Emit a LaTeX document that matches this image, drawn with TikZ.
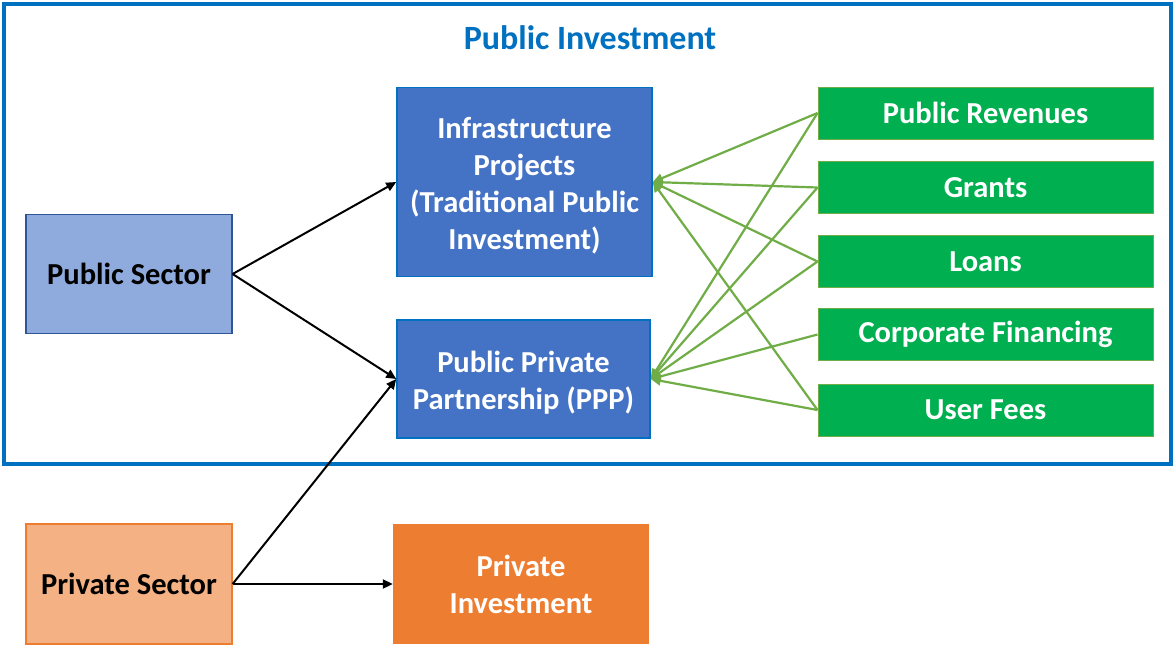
\documentclass[tikz,border=0pt]{standalone}
\usepackage{fontspec}
\setmainfont{Carlito}
\usetikzlibrary{arrows.meta}
\definecolor{frameblue}{HTML}{0070C0}
\definecolor{midblue}{HTML}{4472C4}
\definecolor{lightblue}{HTML}{8FAADC}
\definecolor{edgeblue}{HTML}{2F5597}
\definecolor{srcgreen}{HTML}{00B050}
\definecolor{linegreen}{HTML}{70AD47}
\definecolor{lightorange}{HTML}{F4B183}
\definecolor{darkorange}{HTML}{ED7D31}
% taller first line, to sit the multi-line labels a little lower
\newcommand{\toppad}{\rule{0pt}{29pt}}
\tikzset{
  box/.style={rectangle, inner sep=0pt, align=center, font=\fontsize{30.5}{37}\selectfont\bfseries},
  sector/.style={box, draw=edgeblue, line width=1.2pt, fill=lightblue, text=black},
  invest/.style={box, draw=frameblue, line width=1.5pt, fill=midblue, text=white},
  source/.style={box, draw=linegreen, line width=1pt, fill=srcgreen, text=white,
                 minimum width=335, minimum height=52},
  flow/.style={-{Triangle[length=10pt,width=9pt]}, line width=2pt, black},
  fund/.style={-{Triangle[length=10pt,width=9pt]}, line width=2.2pt, linegreen},
}
\begin{document}
\begin{tikzpicture}[x=1pt,y=-1pt]
\useasboundingbox (0,0) rectangle (1175,646);
\fill[white] (0,0) rectangle (1175,646);
% public investment frame
\draw[frameblue, line width=4pt] (4,4) rectangle (1171,464);
\node[font=\fontsize{34}{40}\selectfont\bfseries, text=frameblue] (title) at (590,38) {Public Investment};

% sectors
\node[sector, minimum width=206, minimum height=119] (pub) at (129,274) {Public Sector};
\node[sector, draw=darkorange, fill=lightorange, minimum width=206, minimum height=120] (priv) at (129,584) {Private Sector};

% investment types
\node[invest, minimum width=255, minimum height=189] (infra) at (524.5,182) {\toppad Infrastructure\\Projects\\(Traditional Public\\Investment)};
\node[invest, minimum width=253, minimum height=118] (ppp) at (523.5,379) {\toppad Public Private\\Partnership (PPP)};
\node[box, fill=darkorange, text=white, minimum width=256, minimum height=120] (pinv) at (521,584) {Private\\Investment};

% funding sources
\node[source] (rev) at (985.5,113) {Public Revenues};
\node[source] (gra) at (985.5,187.5) {Grants};
\node[source] (loa) at (985.5,261.5) {Loans};
\node[source] (cor) at (985.5,334.5) {Corporate Financing};
\node[source] (fee) at (985.5,410) {User Fees};

% sector flows
\draw[flow] (pub.east) -- (infra.west);
\draw[flow] (pub.east) -- (ppp.west);
\draw[flow] (priv.east) -- (ppp.west);
\draw[flow] (priv.east) -- (pinv.west);

% funding flows
\foreach \s in {rev,gra,loa,fee}
  \draw[fund] (\s.west) -- (infra.east);
\foreach \s in {rev,gra,loa,cor,fee}
  \draw[fund] (\s.west) -- (ppp.east);
\end{tikzpicture}
\end{document}
